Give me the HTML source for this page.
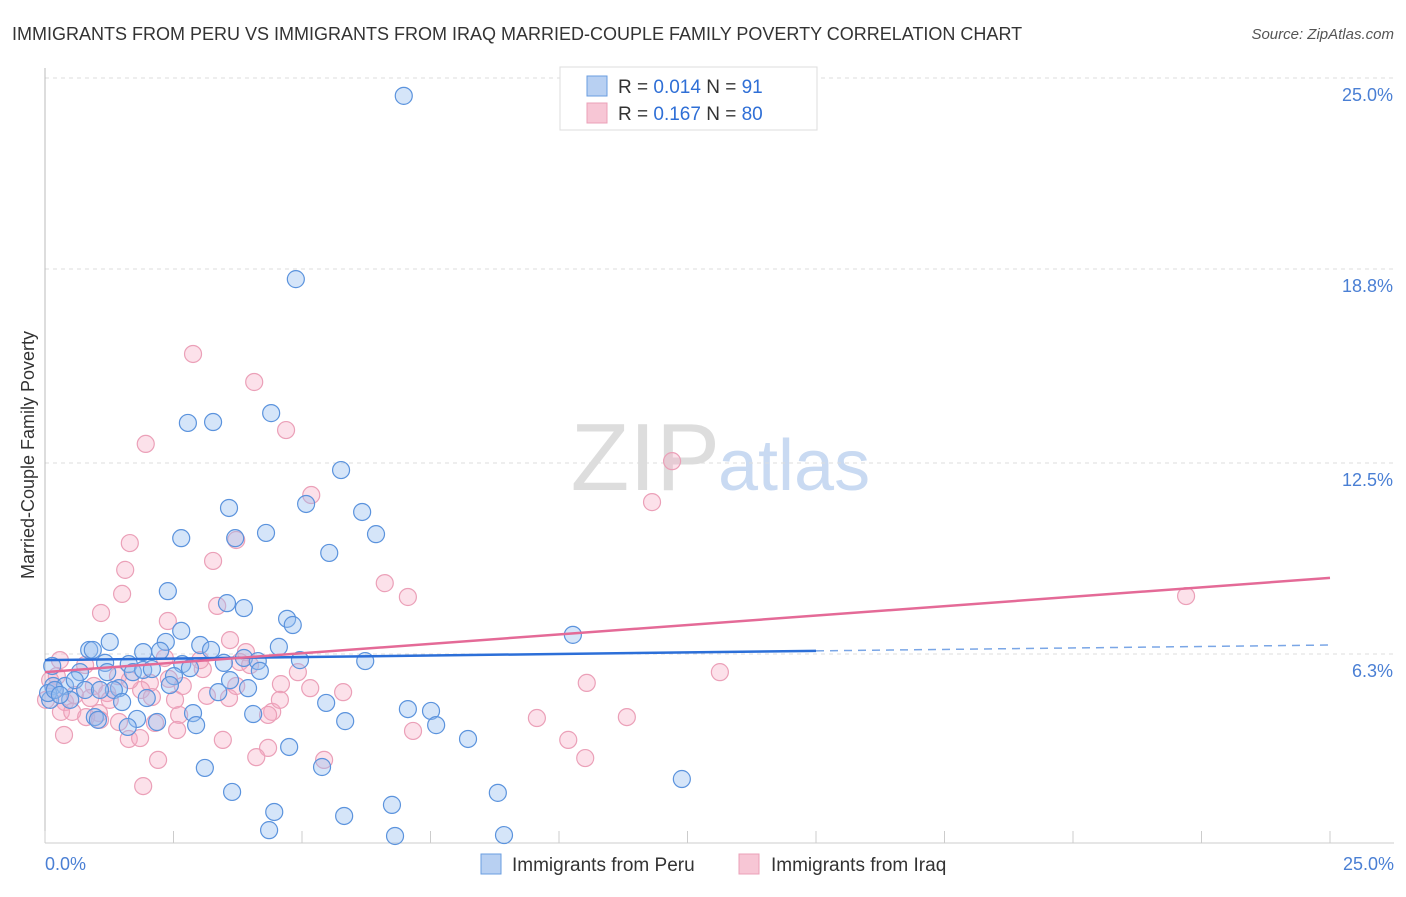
<!DOCTYPE html>
<html><head><meta charset="utf-8"><style>
body{margin:0;background:#fff;font-family:"Liberation Sans",sans-serif;}
svg text{font-family:"Liberation Sans",sans-serif;}
</style></head><body>
<svg width="1406" height="892" xmlns="http://www.w3.org/2000/svg">
<text x="12" y="40" font-size="18" fill="#333">IMMIGRANTS FROM PERU VS IMMIGRANTS FROM IRAQ MARRIED-COUPLE FAMILY POVERTY CORRELATION CHART</text>
<text x="1394" y="39" font-size="15" fill="#555" font-style="italic" text-anchor="end">Source: ZipAtlas.com</text>
<text x="720" y="490" font-size="96" fill="#ddd" text-anchor="end" font-family="Liberation Serif">ZIP</text>
<text x="718" y="490" font-size="72" fill="#c9daf2">atlas</text>
<g id="grid"></g>
<g id="axes"></g>
<g id="marks"></g>
<text x="34" y="455" font-size="18" fill="#333" text-anchor="middle" transform="rotate(-90 34 455)">Married-Couple Family Poverty</text>
<text x="45" y="870" font-size="18" fill="#4a7fd4">0.0%</text>
<text x="1394" y="870" font-size="18" fill="#4a7fd4" text-anchor="end">25.0%</text>
<g>
<rect x="560" y="67" width="257" height="63" fill="#fff" stroke="#ddd"/>
<rect x="587" y="76" width="20" height="20" fill="#b8d0f2" stroke="#6a9ee0"/>
<text x="618" y="93" font-size="19" fill="#333">R = <tspan fill="#2f6fd6">0.014</tspan>   N = <tspan fill="#2f6fd6"> 91</tspan></text>
<rect x="587" y="103" width="20" height="20" fill="#f7c6d5" stroke="#eba0b8"/>
<text x="618" y="120" font-size="19" fill="#333">R =  <tspan fill="#2f6fd6">0.167</tspan>   N = <tspan fill="#2f6fd6">80</tspan></text>
</g>
<g>
<rect x="481" y="854" width="20" height="20" fill="#b8d0f2" stroke="#6a9ee0"/>
<text x="512" y="871" font-size="19" fill="#333">Immigrants from Peru</text>
<rect x="739" y="854" width="20" height="20" fill="#f7c6d5" stroke="#eba0b8"/>
<text x="771" y="871" font-size="19" fill="#333">Immigrants from Iraq</text>
</g>
</svg>
<script>
const yTicks=[6.3,12.5,18.8,25.0];
const yTickLabels=["6.3%","12.5%","18.8%","25.0%"];
const xTicks=[0,2.5,5,7.5,10,12.5,15,17.5,20,22.5,25];
const peruX=[6.98,4.88,4.40,2.78,3.27,5.76,5.08,6.17,3.58,2.65,3.70,4.30,6.44,5.53,2.39,3.54,3.87,4.71,4.82,2.65,10.27,1.26,2.35,0.86,0.93,1.91,3.02,3.23,4.55,2.24,3.87,6.23,2.67,0.14,1.17,1.63,3.48,4.14,1.71,1.91,0.68,1.21,2.51,4.18,2.08,0.16,0.39,1.44,2.43,3.95,3.37,1.34,0.10,0.49,1.50,1.98,5.47,7.06,7.51,2.88,1.79,0.97,1.03,2.18,4.05,5.84,7.61,1.61,2.94,8.23,4.75,5.39,3.11,12.39,3.64,8.81,6.75,4.46,5.82,4.36,6.81,8.93,0.06,0.19,0.29,0.58,0.78,1.07,2.82,3.60,4.96];
const peruY=[24.42,18.47,14.12,13.80,13.83,12.27,11.17,10.91,11.04,10.06,10.06,10.23,10.19,9.58,8.34,7.95,7.79,7.44,7.24,7.05,6.92,6.69,6.69,6.43,6.43,6.36,6.59,6.43,6.53,6.40,6.17,6.07,5.97,5.91,6.01,5.97,6.01,6.07,5.71,5.78,5.71,5.71,5.58,5.75,5.81,5.26,5.26,5.19,5.29,5.19,5.06,5.13,4.81,4.81,4.74,4.87,4.71,4.51,4.45,4.38,4.19,4.25,4.16,4.09,4.35,4.12,3.99,3.93,3.99,3.54,3.28,2.63,2.60,2.24,1.82,1.79,1.40,1.17,1.04,0.58,0.39,0.42,5.03,5.13,4.97,5.45,5.13,5.13,5.84,5.45,6.10];
const iraqX=[2.88,4.07,4.69,1.96,12.20,5.18,11.81,3.72,1.65,3.27,1.56,6.61,1.50,7.06,22.20,1.09,2.39,3.35,3.91,13.13,10.54,3.07,1.42,0.23,0.95,2.04,2.41,2.68,3.15,3.58,4.59,5.80,4.92,3.72,1.87,1.21,0.88,0.39,0.31,0.53,1.05,2.08,2.14,1.44,2.61,9.57,11.32,4.42,4.34,0.80,1.63,1.85,0.37,3.46,7.16,10.18,4.34,2.57,2.20,4.11,5.43,10.51,1.91,0.10,0.19,0.02,0.58,1.26,3.02,3.79,2.33,3.99,0.78,0.29,1.65,2.53,1.07,5.16,4.57,3.60];
const iraqY=[16.04,15.13,13.57,13.12,12.56,11.46,11.23,10.00,9.90,9.32,9.03,8.60,8.25,8.15,8.18,7.63,7.37,7.86,6.36,5.71,5.36,5.81,5.58,5.58,5.26,5.36,5.49,5.26,4.94,4.87,5.32,5.06,5.71,5.26,5.13,5.03,4.87,4.74,4.42,4.42,4.38,4.90,4.06,4.09,4.32,4.22,4.25,4.42,4.32,4.25,3.54,3.57,3.67,3.51,3.80,3.51,3.25,3.83,2.86,2.95,2.86,2.92,2.01,5.45,5.13,4.81,4.97,4.81,6.10,6.04,6.17,5.94,5.94,6.10,5.45,4.81,4.16,5.19,4.81,6.75];
const peruTrendX=[0,15,25], peruTrendY=[6.10,6.40,6.59];
const iraqTrendX=[0,25], iraqTrendY=[5.71,8.77];

const NS="http://www.w3.org/2000/svg";
const sx=v=>45+v*51.4, sy=v=>848-v*30.8;
function mk(tag,attrs,parent){const e=document.createElementNS(NS,tag);for(const k in attrs)e.setAttribute(k,attrs[k]);parent.appendChild(e);return e;}
const grid=document.getElementById('grid'),axes=document.getElementById('axes'),marks=document.getElementById('marks');
yTicks.forEach((t,i)=>{
  const g=mk('line',{x1:45,x2:1394,y1:sy(t),y2:sy(t),stroke:'#ddd','stroke-dasharray':'4,4'},grid);
  
  
  const tx=mk('text',{x:1393,y:sy(t)+23,'font-size':18,fill:'#4a7fd4','text-anchor':'end'},grid);
  tx.textContent=yTickLabels[i];
  
  
});
const ax=mk('line',{x1:45,x2:1394,y1:843,y2:843,stroke:'#ccc'},axes);


const ay=mk('line',{x1:45,x2:45,y1:68,y2:843,stroke:'#bbb'},axes);


xTicks.forEach(t=>{
  const l=mk('line',{x1:sx(t),x2:sx(t),y1:831,y2:843,stroke:'#ccc'},axes);
  
  
});
function dots(X,Y,fill,stroke,name){
  X.forEach((x,i)=>{
    const c=mk('circle',{cx:sx(x),cy:sy(Y[i]),r:8.5,fill:fill,stroke:stroke,'stroke-width':1.2},marks);
    
    
  });
}
dots(iraqX,iraqY,'rgba(245,170,195,0.35)','#eba0b8','iraq-point');
dots(peruX,peruY,'rgba(150,190,240,0.4)','#5b93dd','peru-point');
const pt=mk('line',{x1:sx(peruTrendX[0]),y1:sy(peruTrendY[0]),x2:sx(peruTrendX[1]),y2:sy(peruTrendY[1]),stroke:'#2c6fd8','stroke-width':2.5},marks);


const pd=mk('line',{x1:sx(peruTrendX[1]),y1:sy(peruTrendY[1]),x2:sx(peruTrendX[2]),y2:sy(peruTrendY[2]),stroke:'#7aa6e6','stroke-width':1.5,'stroke-dasharray':'8,6'},marks);


const it=mk('line',{x1:sx(iraqTrendX[0]),y1:sy(iraqTrendY[0]),x2:sx(iraqTrendX[1]),y2:sy(iraqTrendY[1]),stroke:'#e46a97','stroke-width':2.5},marks);


</script>
</body></html>
